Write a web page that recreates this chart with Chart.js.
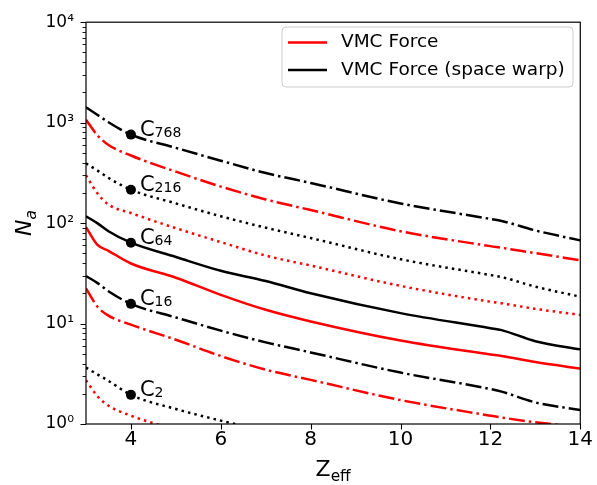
<!DOCTYPE html>
<html>
<head>
<meta charset="utf-8">
<script src="https://cdn.jsdelivr.net/npm/chart.js@4.4.1/dist/chart.umd.min.js"></script>
<style>
  html, body { margin: 0; padding: 0; background: #fff; }
  canvas { display: block; }
</style>
</head>
<body>
<canvas id="chart" width="597" height="485"></canvas>
<script>
// Z_eff grid shared by every curve
const zeff = [3, 3.25, 3.5, 4, 5, 6, 7, 8, 10, 12, 12.25, 13, 14];

// N_a; "force" = VMC Force (red), "warp" = space warp (black)
const warp768  = [1426, 1200, 1010, 760, 561, 418, 315, 251, 157, 110, 105, 84.5, 67.3];
const force768 = [1069, 751, 600, 471, 325, 231, 172, 135, 83, 59, 56.8, 50.2, 42.7];
const warp216  = [393, 335, 282, 215, 157, 117, 90, 71, 43.7, 30.4, 29, 23.3, 18.5];
const force216 = [299, 199, 153, 126, 89, 64.7, 47.5, 37.8, 23.7, 16.5, 15.9, 14.0, 12.2];
const warp64   = [117, 100, 83, 63.8, 46, 33.5, 26.5, 20, 12.7, 9.0, 8.6, 6.67, 5.53];
const force64  = [91, 61, 53, 39.6, 28.6, 19.3, 13.7, 10.5, 6.78, 4.93, 4.75, 4.14, 3.56];
const warp16   = [29.7, 25.4, 21, 15.7, 11.5, 8.5, 6.5, 5.16, 3.25, 2.23, 2.1, 1.64, 1.38];
const force16  = [22.4, 14.8, 12.0, 9.75, 6.9, 4.75, 3.47, 2.75, 1.73, 1.21, 1.16, 1.04, 0.93];
const warp2    = [3.64, 3.13, 2.69, 1.95, 1.41, 1.08, 0.85, null, null, null, null, null, null];
const force2   = [2.73, 1.9, 1.52, 1.21, 0.87, null, null, null, null, null, null, null, null];

// labelled markers at Z_eff = 4
const markZ = 4;
const markVals = [760, 215, 63.8, 15.7, 1.95];
const markNames = ['768', '216', '64', '16', '2'];

const xTicks = [4, 6, 8, 10, 12, 14];
const yTicks = [1, 10, 100, 1000, 10000];
const yTickLabels = ['10⁰', '10¹', '10²', '10³', '10⁴'];
const legendLabels = ['VMC Force', 'VMC Force (space warp)'];

const RED = '#ff0000', BLACK = '#000000';
const DASHDOT = [16, 4, 2.5, 4], DOTTED = [2.5, 4.1], SOLID = [];

Chart.defaults.font.family = "'DejaVu Sans', sans-serif";
Chart.defaults.color = '#000';

function curve(values, color, dash) {
  return {
    data: zeff.map((z, i) => ({ x: z, y: values[i] })),
    borderColor: color,
    borderWidth: 2.5,
    borderDash: dash,
    pointRadius: 0,
    cubicInterpolationMode: 'monotone',
    spanGaps: false,
    order: 1
  };
}

const datasets = [
  {
    type: 'scatter',
    data: markVals.map(v => ({ x: markZ, y: v })),
    pointRadius: 5,
    pointBackgroundColor: BLACK,
    pointBorderWidth: 0,
    order: 0
  },
  curve(warp768, BLACK, DASHDOT),
  curve(force768, RED, DASHDOT),
  curve(warp216, BLACK, DOTTED),
  curve(force216, RED, DOTTED),
  curve(warp64, BLACK, SOLID),
  curve(force64, RED, SOLID),
  curve(warp16, BLACK, DASHDOT),
  curve(force16, RED, DASHDOT),
  curve(warp2, BLACK, DOTTED),
  curve(force2, RED, DOTTED)
];

// frame, tick marks, axis titles, legend and C_n labels
const decorations = {
  id: 'decorations',
  afterDraw(chart) {
    const { ctx, chartArea: a } = chart;
    const x = chart.scales.x, y = chart.scales.y;
    ctx.save();

    ctx.strokeStyle = '#000';
    ctx.lineWidth = 1.1;
    ctx.beginPath();
    xTicks.forEach(v => {
      const px = Math.round(x.getPixelForValue(v)) + 0.5;
      ctx.moveTo(px, a.bottom); ctx.lineTo(px, a.bottom + 5.5);
    });
    yTicks.forEach(v => {
      const py = Math.round(y.getPixelForValue(v)) + 0.5;
      ctx.moveTo(a.left, py); ctx.lineTo(a.left - 5.5, py);
    });
    ctx.stroke();

    ctx.lineWidth = 0.9;
    ctx.beginPath();
    for (let d = 1; d < 10000; d *= 10) {
      for (let m = 2; m <= 9; m++) {
        const py = Math.round(y.getPixelForValue(d * m)) + 0.5;
        ctx.moveTo(a.left, py); ctx.lineTo(a.left - 3.5, py);
      }
    }
    ctx.stroke();

    ctx.lineWidth = 1.2;
    ctx.strokeRect(a.left, a.top, a.right - a.left, a.bottom - a.top);

    // legend
    const lx = 282, ly = 27, lw = 291, lh = 60;
    ctx.beginPath();
    ctx.roundRect(lx, ly, lw, lh, 4);
    ctx.fillStyle = 'rgba(255,255,255,0.8)';
    ctx.fill();
    ctx.strokeStyle = '#cccccc';
    ctx.lineWidth = 1;
    ctx.stroke();
    [RED, BLACK].forEach((c, i) => {
      const yy = 42.5 + i * 27.5;
      ctx.strokeStyle = c;
      ctx.lineWidth = 2.5;
      ctx.setLineDash([]);
      ctx.beginPath();
      ctx.moveTo(288, yy); ctx.lineTo(327, yy);
      ctx.stroke();
      ctx.fillStyle = '#000';
      ctx.font = "18.5px 'DejaVu Sans'";
      ctx.textBaseline = 'middle';
      ctx.textAlign = 'left';
      ctx.fillText(legendLabels[i], 341, yy);
    });

    // C_n labels next to the markers
    ctx.fillStyle = '#000';
    ctx.textBaseline = 'alphabetic';
    markVals.forEach((v, i) => {
      const px = x.getPixelForValue(markZ) + 9;
      const py = y.getPixelForValue(v) + 1.5;
      ctx.font = "21px 'DejaVu Sans'";
      ctx.fillText('C', px, py);
      const w = ctx.measureText('C').width;
      ctx.font = "14px 'DejaVu Sans'";
      ctx.fillText(markNames[i], px + w, py + 1);
    });

    // x title Z_eff
    ctx.font = "22px 'DejaVu Sans'";
    const wZ = ctx.measureText('Z').width;
    ctx.font = "15.4px 'DejaVu Sans'";
    const wE = ctx.measureText('eff').width;
    const cx = (a.left + a.right) / 2 - (wZ + wE) / 2;
    ctx.font = "22px 'DejaVu Sans'";
    ctx.fillText('Z', cx, 476);
    ctx.font = "15.4px 'DejaVu Sans'";
    ctx.fillText('eff', cx + wZ, 480.5);

    // y title N_a
    ctx.translate(31, (a.top + a.bottom) / 2);
    ctx.rotate(-Math.PI / 2);
    ctx.font = "italic 22px 'DejaVu Sans'";
    const wN = ctx.measureText('N').width;
    ctx.font = "italic 15.4px 'DejaVu Sans'";
    const wa = ctx.measureText('a').width;
    const sx = -(wN + wa) / 2;
    ctx.font = "italic 22px 'DejaVu Sans'";
    ctx.fillText('N', sx, 0);
    ctx.font = "italic 15.4px 'DejaVu Sans'";
    ctx.fillText('a', sx + wN, 4.5);

    ctx.restore();
  }
};

new Chart(document.getElementById('chart').getContext('2d'), {
  type: 'line',
  data: { datasets: datasets },
  options: {
    responsive: false,
    animation: false,
    devicePixelRatio: 1,
    layout: { padding: { left: 0, right: 15, top: 18, bottom: 0 } },
    scales: {
      x: {
        type: 'linear',
        min: 3,
        max: 14,
        afterBuildTicks: s => { s.ticks = xTicks.map(v => ({ value: v })); },
        afterFit: s => { s.height = 61; },
        grid: { display: false, drawTicks: false },
        border: { display: false },
        ticks: { font: { size: 20 }, color: '#000', padding: 4, callback: v => String(v), maxRotation: 0 }
      },
      y: {
        type: 'logarithmic',
        min: 1,
        max: 10000,
        afterBuildTicks: s => { s.ticks = yTicks.map(v => ({ value: v })); },
        afterFit: s => { s.width = 86; },
        grid: { display: false, drawTicks: false },
        border: { display: false },
        ticks: { font: { size: 17 }, color: '#000', padding: 12, callback: (v, i) => yTickLabels[i] }
      }
    },
    plugins: {
      legend: { display: false },
      tooltip: { enabled: false }
    }
  },
  plugins: [decorations]
});
</script>
</body>
</html>
